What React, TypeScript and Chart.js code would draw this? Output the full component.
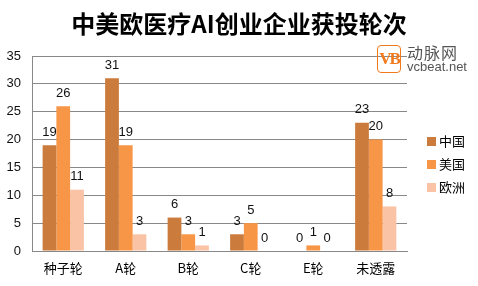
import React, { useEffect, useRef } from "react";
import { Chart, registerables } from "chart.js";

Chart.register(...registerables);

const categories = ["种子轮", "A轮", "B轮", "C轮", "E轮", "未透露"];
const seriesNames = ["中国", "美国", "欧洲"];
const chinaValues = [19, 31, 6, 3, 0, 23];
const usValues = [26, 19, 3, 5, 1, 20];
const europeValues = [11, 3, 1, 0, 0, 8];
const seriesColors = ["#CB7B3B", "#F79646", "#FAC3A5"];
const yTicks = [0, 5, 10, 15, 20, 25, 30, 35];
const titleText = "中美欧医疗AI创业企业获投轮次";

const valueLabels = {
  id: "valueLabels",
  afterDatasetsDraw(chart: any) {
    const ctx = chart.ctx;
    ctx.save();
    ctx.font = '13px "Liberation Sans", Arial, sans-serif';
    ctx.fillStyle = "#111";
    ctx.textAlign = "center";
    ctx.textBaseline = "middle";
    chart.data.datasets.forEach((ds: any, i: number) => {
      const meta = chart.getDatasetMeta(i);
      meta.data.forEach((el: any, j: number) => {
        ctx.fillText(String(ds.data[j]), el.x, el.y - 13);
      });
    });
    ctx.restore();
  },
};

export default function App() {
  const ref = useRef<HTMLCanvasElement>(null);
  useEffect(() => {
    if (!ref.current) return;
    const seriesValues = [chinaValues, usValues, europeValues];
    const chart = new Chart(ref.current, {
      type: "bar",
      data: {
        labels: categories,
        datasets: seriesNames.map((name, i) => ({
          label: name,
          data: seriesValues[i],
          backgroundColor: seriesColors[i],
          borderWidth: 0,
          categoryPercentage: 0.66,
          barPercentage: 1,
        })),
      },
      options: {
        animation: false,
        responsive: false,
        maintainAspectRatio: false,
        layout: { padding: { top: 56, left: 5, right: 71, bottom: 0 } },
        plugins: {
          legend: { display: false },
          title: { display: false },
          tooltip: { enabled: false },
        },
        scales: {
          x: {
            grid: { display: false, drawTicks: false },
            border: { color: "#888", width: 1 },
            ticks: {
              color: "#000",
              padding: 9,
              font: { family: '"Noto Sans CJK SC", sans-serif', size: 13 },
            },
            afterFit: (scale: any) => {
              scale.height = 35;
            },
          },
          y: {
            min: 0,
            max: 35,
            afterBuildTicks: (scale: any) => {
              scale.ticks = yTicks.map((v) => ({ value: v }));
            },
            grid: { color: "#888", lineWidth: 1, drawTicks: false },
            border: { color: "#888", width: 1 },
            ticks: {
              color: "#111",
              padding: 11,
              font: { family: '"Liberation Sans", Arial, sans-serif', size: 13 },
            },
            afterFit: (scale: any) => {
              scale.width = 27;
            },
          },
        },
      },
      plugins: [valueLabels],
    });
    return () => chart.destroy();
  }, []);

  return (
    <div style={{ position: "fixed", left: 0, top: 0, width: 478, height: 286, background: "#fff", overflow: "hidden" }}>
      <canvas ref={ref} width={478} height={286} style={{ position: "absolute", left: 0, top: 0 }} />
      <div
        style={{
          position: "absolute",
          left: 0,
          top: 8,
          width: 478,
          textAlign: "center",
          fontFamily: '"Noto Sans CJK SC", sans-serif',
          fontWeight: 700,
          fontSize: 24,
          lineHeight: "30px",
          color: "#000",
        }}
      >
        {titleText}
      </div>
      <div
        style={{
          position: "absolute",
          left: 377,
          top: 45,
          width: 22,
          height: 26,
          border: "1.5px solid #F07A1E",
          borderRadius: 4,
          color: "#F07A1E",
          fontFamily: '"Liberation Serif", serif',
          fontWeight: 700,
          fontSize: 17,
          lineHeight: "26px",
          textAlign: "center",
          letterSpacing: -2,
        }}
      >
        VB
      </div>
      <div
        style={{
          position: "absolute",
          left: 407,
          top: 43,
          fontFamily: '"Noto Sans CJK SC", sans-serif',
          fontSize: 16,
          lineHeight: "18px",
          color: "#555",
          letterSpacing: 1,
        }}
      >
        动脉网
      </div>
      <div
        style={{
          position: "absolute",
          left: 407,
          top: 60,
          fontFamily: '"Liberation Sans", Arial, sans-serif',
          fontSize: 13,
          lineHeight: "14px",
          color: "#555",
        }}
      >
        vcbeat.net
      </div>
      {seriesNames.map((name, i) => (
        <div
          key={name}
          style={{
            position: "absolute",
            left: 427,
            top: 131 + i * 23,
            height: 18,
            display: "flex",
            alignItems: "center",
            fontFamily: '"Noto Sans CJK SC", sans-serif',
            fontSize: 13,
            color: "#000",
          }}
        >
          <span style={{ display: "inline-block", width: 9, height: 9, background: seriesColors[i], marginRight: 3, marginTop: 3 }} />
          {name}
        </div>
      ))}
    </div>
  );
}
